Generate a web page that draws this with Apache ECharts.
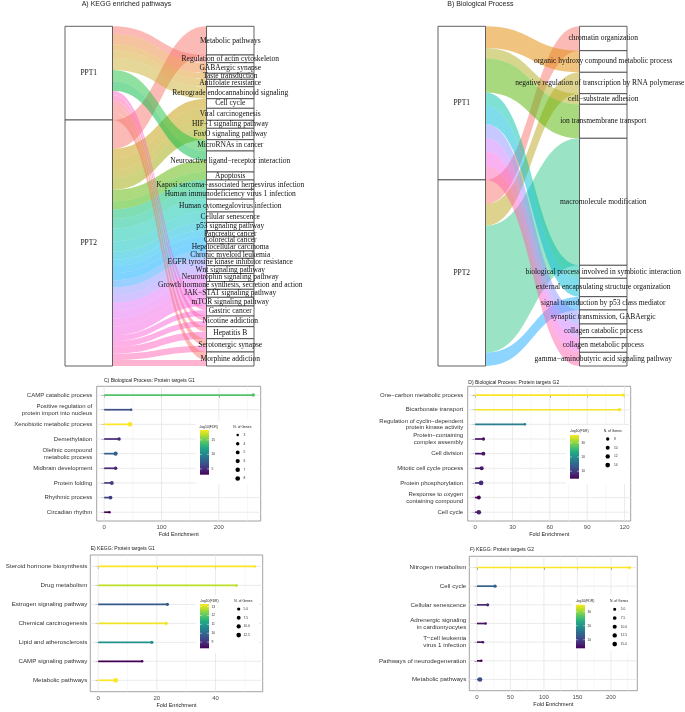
<!DOCTYPE html>
<html>
<head>
<meta charset="utf-8">
<script src="https://cdn.jsdelivr.net/npm/echarts@6.0.0/dist/echarts.min.js"></script>
<style>
html,body{margin:0;padding:0;background:#ffffff;}
#chart{width:685px;height:712px;}
</style>
</head>
<body>
<div id="chart"></div>
<script>
// ================= DATA =================
// A) KEGG enriched pathways (alluvial: PPT1/PPT2 -> pathway)
const keggSources = ['PPT1', 'PPT2'];
const keggPathways = ['Metabolic pathways', 'Regulation of actin cytoskeleton', 'GABAergic synapse', 'Taste transduction',
  'Antifolate resistance', 'Retrograde endocannabinoid signaling', 'Cell cycle', 'Viral carcinogenesis',
  'HIF−1 signaling pathway', 'FoxO signaling pathway', 'MicroRNAs in cancer', 'Neuroactive ligand−receptor interaction',
  'Apoptosis', 'Kaposi sarcoma−associated herpesvirus infection', 'Human immunodeficiency virus 1 infection',
  'Human cytomegalovirus infection', 'Cellular senescence', 'p53 signaling pathway', 'Pancreatic cancer',
  'Colorectal cancer', 'Hepatocellular carcinoma', 'Chronic myeloid leukemia', 'EGFR tyrosine kinase inhibitor resistance',
  'Wnt signaling pathway', 'Neurotrophin signaling pathway', 'Growth hormone synthesis, secretion and action',
  'JAK−STAT signaling pathway', 'mTOR signaling pathway', 'Gastric cancer', 'Nicotine addiction', 'Hepatitis B',
  'Serotonergic synapse', 'Morphine addiction'];
const keggFromPPT1 = [0, 7.7, 10.6, 6, 7.4, 12, 0, 0, 0, 0, 11.3, 9.4, 0, 0, 0, 0, 0, 0, 0, 0, 0, 0, 0, 0, 0, 0, 0, 0, 4.3, 5, 5, 7, 8];
const keggFromPPT2 = [28.7, 0, 0, 0, 0, 0, 9.6, 12, 8, 11.4, 0, 11.6, 8, 9.4, 9.8, 12.8, 10.4, 8.1, 6.2, 7.1, 7.2, 7.3, 7.4, 7.8, 8, 7.8, 8, 8.7, 5.7, 5.7, 7, 6.3, 6];

// B) Biological Process (alluvial)
const goSources = ['PPT1', 'PPT2'];
const goTerms = ['chromatin organization', 'organic hydroxy compound metabolic process',
  'negative regulation of transcription by RNA polymerase II', 'cell−substrate adhesion', 'ion transmembrane transport',
  'macromolecule modification', 'biological process involved in symbiotic interaction',
  'external encapsulating structure organization', 'signal transduction by p53 class mediator',
  'synaptic transmission, GABAergic', 'collagen catabolic process', 'collagen metabolic process',
  'gamma−aminobutyric acid signaling pathway'];
const goFromPPT1 = [0, 21.6, 0, 10.6, 34, 0, 13, 18.4, 0, 14, 13.7, 14.6, 13.7];
const goFromPPT2 = [24.4, 0, 21.4, 0, 0, 127, 0, 0, 13.3, 0, 0, 0, 0];

// C) Biological Process: Protein targets G1
const cTerms = ['CAMP catabolic process', 'Positive regulation of\nprotein import into nucleus', 'Xenobiotic metabolic process',
  'Demethylation', 'Olefinic compound\nmetabolic process', 'Midbrain development', 'Protein folding', 'Rhythmic process', 'Circadian rhythm'];
const cFold = [260, 47, 45, 26, 20, 20, 13.4, 11, 9.3];
const cFDR = [14.2, 6.7, 18.4, 4.8, 7.6, 4.8, 5.8, 5.8, 3.0];
const cGenes = [4, 3, 8, 4, 6, 4, 5, 5, 3];
const cFoldTicks = [0, 100, 200];
const cFdrTicks = [5, 10, 15];
const cGeneTicks = [3, 4, 5, 6, 7, 8];
const cGeneLabels = ['3', '4', '5', '6', '7', '8'];

// D) Biological Process: Protein targets G2
const dTerms = ['One−carbon metabolic process', 'Bicarbonate transport', 'Regulation of cyclin−dependent\nprotein kinase activity',
  'Protein−containing\ncomplex assembly', 'Cell division', 'Mitotic cell cycle process', 'Protein phosphorylation',
  'Response to oxygen\ncontaining compound', 'Cell cycle'];
const dFold = [119, 116, 40, 6.7, 6.7, 5.3, 4.8, 3, 3];
const dFDR = [35.4, 35, 17.7, 6.3, 6.3, 6.6, 8.5, 4.8, 7.5];
const dGenes = [8, 8, 7, 8, 9, 10, 14, 10, 13];
const dFoldTicks = [0, 30, 60, 90, 120];
const dFdrTicks = [10, 20, 30];
const dGeneTicks = [8, 10, 12, 14];
const dGeneLabels = ['8', '10', '12', '14'];

// E) KEGG: Protein targets G1
const eTerms = ['Steroid hormone biosynthesis', 'Drug metabolism', 'Estrogen signaling pathway', 'Chemical carcinogenesis',
  'Lipid and atherosclerosis', 'CAMP signaling pathway', 'Metabolic pathways'];
const eFold = [53.4, 47.2, 23.6, 23.2, 18.3, 15, 6];
const eFDR = [13.3, 12.8, 9.7, 13.2, 10.8, 8.3, 13.3];
const eGenes = [4, 4, 5, 5, 5, 4, 13];
const eFoldTicks = [0, 20, 40];
const eFdrTicks = [9, 10, 11, 12, 13];
const eGeneTicks = [5, 7.5, 10, 12.5];
const eGeneLabels = ['5.0', '7.5', '10.0', '12.5'];

// F) KEGG: Protein targets G2
const fTerms = ['Nitrogen metabolism', 'Cell cycle', 'Cellular senescence', 'Adrenergic signaling\nin cardiomyocytes',
  'T−cell leukemia\nvirus 1 infection', 'Pathways of neurodegeneration', 'Metabolic pathways'];
const fFold = [228, 27, 16, 13, 9, 6.5, 4.5];
const fFDR = [35, 13.7, 7.2, 5.5, 5.5, 3.9, 11.1];
const fGenes = [5, 6, 5, 4, 4, 4, 16];
const fFoldTicks = [0, 50, 100, 150, 200];
const fFdrTicks = [10, 20, 30];
const fGeneTicks = [5, 7.5, 10, 12.5, 15];
const fGeneLabels = ['5.0', '7.5', '10.0', '12.5', '15.0'];

// ================= STYLES =================
const SANS = "'Liberation Sans', Arial, Helvetica, sans-serif";
const SERIF = "'Liberation Serif', 'Times New Roman', serif";
const keggColPPT1 = ['#F8766D', '#F8766D', '#EC8A3F', '#E09A2A', '#D4A62A', '#C9B030', '#C49A00', '#BB9D00', '#AEA200', '#9CA700',
  '#21C141', '#00BA42', '#39B600', '#00BE67', '#00C08B', '#00C1A9', '#00C0BB', '#00BCD8', '#00B5EE', '#00AEFA', '#00A9FF',
  '#35A2FF', '#8B93FF', '#A58AFF', '#DC71FA', '#E76BF3', '#F066EA', '#F564E3', '#FF61C9', '#FF64B0', '#FC6D8C', '#F8766D', '#F8766D'];
const keggColPPT2 = ['#F8766D', '#F8766D', '#EC8A3F', '#E09A2A', '#D4A62A', '#C9B030', '#C49A00', '#BB9D00', '#AEA200', '#9CA700',
  '#7CAE00', '#5BB300', '#39B600', '#00BE67', '#00C08B', '#00C1A9', '#00C0BB', '#00BCD8', '#00B5EE', '#00AEFA', '#00A9FF',
  '#35A2FF', '#8B93FF', '#A58AFF', '#DC71FA', '#E76BF3', '#F066EA', '#F564E3', '#FA62D9', '#FD61CF', '#FF61C3', '#FF63B6', '#FF67A4'];
const goColPPT1 = ['#F8766D', '#E18A00', '#BBA71D', '#B0AE20', '#53B400', '#35C88B', '#00C1AA', '#00BCD8', '#1BABFF',
  '#8B93FF', '#C77CFF', '#F564E3', '#FF64B0'];
const goColPPT2 = ['#F8766D', '#E18A00', '#BBA71D', '#B0AE20', '#53B400', '#35C88B', '#00C1AA', '#00BCD8', '#1BABFF',
  '#8B93FF', '#C77CFF', '#F564E3', '#FF64B0'];
const VIR = ['#440154', '#482475', '#414487', '#355F8D', '#2A788E', '#21918C', '#22A884', '#44BF70', '#7AD151', '#BDDF26', '#FDE725'];
const DOT_MIN = 2.5, DOT_MAX = 4.7;

// ================= LAYOUT =================
const LAYOUT = {
  A: {left: 65, top: 26.3, width: 189, height: 339.7, titleX: 81.7, titleY: 4.5, title: 'A) KEGG enriched pathways'},
  B: {left: 438, top: 26.3, width: 189, height: 339.7, titleX: 447.3, titleY: 4.5, title: 'B) Biological Process'},
  C: {left: 96.7, top: 386.3, width: 164, height: 134.7, titleX: 104, titleY: 381, title: 'C) Biological Process: Protein targets G1',
      labelMargin: 4.5, labelSize: 6, bg: [196, 421, 63, 63], cbar: [200, 430, 9, 44.7], cbTitle: [199.3, 426.7],
      sizeTitle: [233.3, 426.7], dotX: 237.7, dotY: 435, dotStep: 8.7, dotLabelX: 243.5},
  D: {left: 467.7, top: 386.3, width: 163, height: 134.7, titleX: 468.3, titleY: 382.3, title: 'D) Biological Process: Protein targets G2',
      labelMargin: 4.5, labelSize: 6, bg: [566, 425, 63, 59], cbar: [570, 435, 9, 43.7], cbTitle: [570, 430.7],
      sizeTitle: [603.7, 430.7], dotX: 607.7, dotY: 439, dotStep: 8.7, dotLabelX: 614},
  E: {left: 90.3, top: 555, width: 172.4, height: 136.7, titleX: 90.7, titleY: 548.3, title: 'E) KEGG: Protein targets G1',
      labelMargin: 3, labelSize: 6.2, bg: [196, 595, 63, 58], cbar: [200, 604, 9, 44.3], cbTitle: [200, 600.7],
      sizeTitle: [234.3, 600.7], dotX: 238.7, dotY: 609, dotStep: 8.7, dotLabelX: 243.5},
  F: {left: 469.3, top: 556.3, width: 168, height: 134.4, titleX: 470, titleY: 549.7, title: 'F) KEGG: Protein targets G2',
      labelMargin: 3, labelSize: 6.2, bg: [572, 595, 64, 56], cbar: [576, 604.7, 9, 43.6], cbTitle: [575.7, 600.7],
      sizeTitle: [610, 600.7], dotX: 614.7, dotY: 609.3, dotStep: 8.7, dotLabelX: 620.7}
};

// ================= BUILD =================
function hex2rgb(h) { return [parseInt(h.slice(1, 3), 16), parseInt(h.slice(3, 5), 16), parseInt(h.slice(5, 7), 16)]; }
function viridis(t) {
  t = Math.max(0, Math.min(1, t));
  const s = t * 10, i = Math.min(9, Math.floor(s)), f = s - i;
  const a = hex2rgb(VIR[i]), b = hex2rgb(VIR[i + 1]);
  return 'rgb(' + a.map((v, j) => Math.round(v + (b[j] - v) * f)).join(',') + ')';
}

const grid = [], xAxis = [], yAxis = [], series = [], graphics = [];

function addText(x, y, text, size, extra) {
  graphics.push({
    type: 'text', x: x, y: y, z: 120, silent: true,
    style: Object.assign({text: text, font: size + 'px ' + SANS, fill: '#1a1a1a',
      textAlign: 'left', textVerticalAlign: 'middle', align: 'left', verticalAlign: 'middle'}, extra || {})
  });
}

function sankeySeries(sources, targets, v1, v2, c1, c2, L) {
  const nodes = sources.map(s => ({name: s})).concat(targets.map(t => ({name: t})));
  const links = [];
  targets.forEach((t, i) => {
    if (v1[i] > 0) links.push({source: sources[0], target: t, value: v1[i], lineStyle: {color: c1[i]}});
    if (v2[i] > 0) links.push({source: sources[1], target: t, value: v2[i], lineStyle: {color: c2[i]}});
  });
  addText(L.titleX, L.titleY, L.title, 7, {fill: '#222'});
  return {
    type: 'sankey', left: L.left, top: L.top, width: L.width, height: L.height,
    nodeWidth: 47.5, nodeGap: 0, layoutIterations: 0, draggable: false, nodeAlign: 'justify',
    data: nodes, links: links, silent: true,
    label: {show: true, position: 'inside', fontFamily: SERIF, fontSize: 7.5, color: '#111'},
    itemStyle: {color: '#ffffff', borderColor: '#3a3a3a', borderWidth: 0.8},
    lineStyle: {opacity: 0.5, curveness: 0.5},
    emphasis: {disabled: true}
  };
}

series.push(sankeySeries(keggSources, keggPathways, keggFromPPT1, keggFromPPT2, keggColPPT1, keggColPPT2, LAYOUT.A));
series.push(sankeySeries(goSources, goTerms, goFromPPT1, goFromPPT2, goColPPT1, goColPPT2, LAYOUT.B));

function addPanel(P, L) {
  const k = grid.length;
  const n = P.terms.length;
  const fMax = Math.max(...P.fold), pad = 0.05 * fMax;
  const fdrMin = Math.min(...P.fdr), fdrMax = Math.max(...P.fdr);
  const gMin = Math.min(...P.genes), gMax = Math.max(...P.genes);
  const col = v => viridis((v - fdrMin) / (fdrMax - fdrMin));
  const size = g => DOT_MIN + (DOT_MAX - DOT_MIN) * Math.sqrt(Math.max(0, (g - gMin) / (gMax - gMin)));
  const idx = P.terms.map((_, i) => i);

  grid.push({left: L.left, top: L.top, width: L.width, height: L.height, show: true,
    backgroundColor: '#ffffff', borderColor: '#8a8a8a', borderWidth: 0.8});
  xAxis.push({
    type: 'value', gridIndex: k, min: -pad, max: fMax + pad,
    axisLine: {show: false}, splitLine: {show: false},
    axisTick: {show: true, customValues: P.ticks, length: 2.5, lineStyle: {color: '#333', width: 0.6}},
    axisLabel: {customValues: P.ticks, fontSize: 6, fontFamily: SANS, color: '#4d4d4d', margin: 3.2,
      showMinLabel: true, showMaxLabel: true},
    name: 'Fold Enrichment', nameLocation: 'middle', nameGap: 10.5,
    nameTextStyle: {fontSize: 5.5, fontFamily: SANS, color: '#1a1a1a'}
  });
  yAxis.push({
    type: 'value', gridIndex: k, inverse: true, min: -0.6, max: n - 0.4,
    axisLine: {show: false}, splitLine: {show: false},
    axisTick: {show: true, customValues: idx, length: 2.5, lineStyle: {color: '#333', width: 0.6}},
    axisLabel: {customValues: idx, formatter: v => P.terms[Math.round(v)], fontSize: L.labelSize, fontFamily: SANS,
      color: '#333', margin: L.labelMargin, align: 'right', lineHeight: 6.8}
  });

  const step = P.ticks[1] - P.ticks[0];
  const minors = [];
  [P.ticks[0] - step / 2].concat(P.ticks.map(t => t + step / 2)).forEach(m => {
    if (m > -pad && m < fMax + pad && P.ticks.indexOf(m) < 0) minors.push(m);
  });
  // vertical grid lines
  series.push({
    type: 'custom', xAxisIndex: k, yAxisIndex: k, silent: true, z: 1, encode: {x: 0, y: 1},
    data: minors.map(m => [m, 0, 0]).concat(P.ticks.map(t => [t, 0, 1])),
    renderItem: function (params, api) {
      const cs = params.coordSys;
      const x = api.coord([api.value(0), 0])[0];
      const major = api.value(2) === 1;
      return {type: 'line', shape: {x1: x, y1: cs.y, x2: x, y2: cs.y + cs.height},
        style: {stroke: major ? '#e6e6e6' : '#f0f0f0', lineWidth: major ? 0.8 : 0.5}};
    }
  });
  // horizontal grid lines at categories
  series.push({
    type: 'custom', xAxisIndex: k, yAxisIndex: k, silent: true, z: 1, encode: {x: 0, y: 1},
    data: idx.map(i => [0, i]),
    renderItem: function (params, api) {
      const cs = params.coordSys;
      const y = api.coord([0, api.value(1)])[1];
      return {type: 'line', shape: {x1: cs.x, y1: y, x2: cs.x + cs.width, y2: y},
        style: {stroke: '#e6e6e6', lineWidth: 0.8}};
    }
  });
  // lollipop sticks
  series.push({
    type: 'custom', xAxisIndex: k, yAxisIndex: k, silent: true, z: 2, encode: {x: 0, y: 1},
    data: P.fold.map((v, i) => [v, i]),
    renderItem: function (params, api) {
      const p0 = api.coord([0, api.value(1)]);
      const p1 = api.coord([api.value(0), api.value(1)]);
      return {type: 'line', shape: {x1: p0[0], y1: p0[1], x2: p1[0], y2: p1[1]},
        style: {stroke: col(P.fdr[params.dataIndex]), lineWidth: 1.7}};
    }
  });
  // lollipop heads
  series.push({
    type: 'scatter', xAxisIndex: k, yAxisIndex: k, silent: true, z: 3,
    data: P.fold.map((v, i) => ({value: [v, i], symbolSize: size(P.genes[i]), itemStyle: {color: col(P.fdr[i]), opacity: 1}}))
  });

  // panel title
  addText(L.titleX, L.titleY, L.title, 5, {fill: '#222'});

  // legends (inside panel, on white background)
  graphics.push({type: 'rect', z: 110, silent: true, shape: {x: L.bg[0], y: L.bg[1], width: L.bg[2], height: L.bg[3]},
    style: {fill: '#ffffff'}});
  const [bx, by, bw, bh] = L.cbar;
  graphics.push({type: 'rect', z: 111, silent: true, shape: {x: bx, y: by, width: bw, height: bh},
    style: {fill: {type: 'linear', x: 0, y: 1, x2: 0, y2: 0, colorStops: VIR.map((c, i) => ({offset: i / 10, color: c}))}}});
  P.fdrTicks.forEach(t => {
    const yy = by + bh - (t - fdrMin) / (fdrMax - fdrMin) * bh;
    graphics.push({type: 'line', z: 112, silent: true, shape: {x1: bx, y1: yy, x2: bx + 1.8, y2: yy}, style: {stroke: '#fff', lineWidth: 0.5}});
    graphics.push({type: 'line', z: 112, silent: true, shape: {x1: bx + bw - 1.8, y1: yy, x2: bx + bw, y2: yy}, style: {stroke: '#fff', lineWidth: 0.5}});
    addText(bx + bw + 2.5, yy, String(t), 3.3, {fill: '#333'});
  });
  addText(L.cbTitle[0], L.cbTitle[1], '-log10(FDR)', 3.4, {fill: '#222'});
  addText(L.sizeTitle[0], L.sizeTitle[1], 'N. of Genes', 3.4, {fill: '#222'});
  P.geneTicks.forEach((g, i) => {
    const cy = L.dotY + i * L.dotStep;
    graphics.push({type: 'circle', z: 112, silent: true, shape: {cx: L.dotX, cy: cy, r: size(g) / 2}, style: {fill: '#000'}});
    addText(L.dotLabelX, cy, P.geneLabels[i], 3.3, {fill: '#333'});
  });
}

addPanel({terms: cTerms, fold: cFold, fdr: cFDR, genes: cGenes, ticks: cFoldTicks, fdrTicks: cFdrTicks, geneTicks: cGeneTicks, geneLabels: cGeneLabels}, LAYOUT.C);
addPanel({terms: dTerms, fold: dFold, fdr: dFDR, genes: dGenes, ticks: dFoldTicks, fdrTicks: dFdrTicks, geneTicks: dGeneTicks, geneLabels: dGeneLabels}, LAYOUT.D);
addPanel({terms: eTerms, fold: eFold, fdr: eFDR, genes: eGenes, ticks: eFoldTicks, fdrTicks: eFdrTicks, geneTicks: eGeneTicks, geneLabels: eGeneLabels}, LAYOUT.E);
addPanel({terms: fTerms, fold: fFold, fdr: fFDR, genes: fGenes, ticks: fFoldTicks, fdrTicks: fFdrTicks, geneTicks: fGeneTicks, geneLabels: fGeneLabels}, LAYOUT.F);

const chart = echarts.init(document.getElementById('chart'), null, {renderer: 'canvas', width: 685, height: 712});
chart.setOption({
  backgroundColor: '#ffffff',
  animation: false,
  textStyle: {fontFamily: SANS},
  grid: grid, xAxis: xAxis, yAxis: yAxis, series: series,
  graphic: {elements: graphics}
});
</script>
</body>
</html>
